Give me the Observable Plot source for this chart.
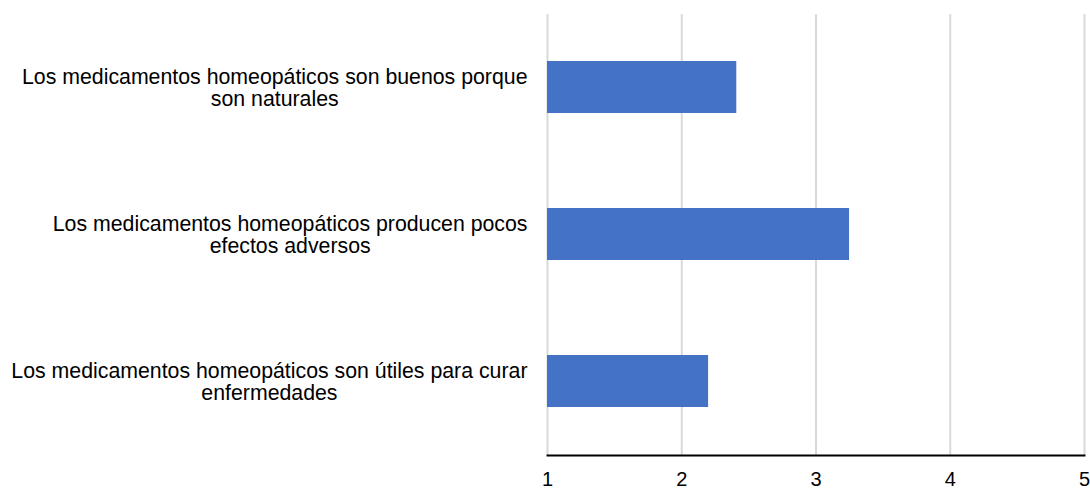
<!DOCTYPE html>
<html><head><meta charset="utf-8">
<script src="https://cdn.jsdelivr.net/npm/d3@7"></script>
<script src="https://cdn.jsdelivr.net/npm/@observablehq/plot@0.6"></script>
<style>html,body{margin:0;padding:0;background:#fff}</style>
</head><body><div id="chart"></div>
<script>
const categories = [
  "Los medicamentos homeopáticos son buenos porque son naturales",
  "Los medicamentos homeopáticos producen pocos efectos adversos",
  "Los medicamentos homeopáticos son útiles para curar enfermedades"
];
const labelLines = [
  ["Los medicamentos homeopáticos son buenos porque", "son naturales"],
  ["Los medicamentos homeopáticos producen pocos", "efectos adversos"],
  ["Los medicamentos homeopáticos son útiles para curar", "enfermedades"]
];
const values = [2.41, 3.25, 2.2];
const xTicks = [1, 2, 3, 4, 5];
const xDomain = [1, 5];

const data = categories.map((c, i) => ({category: c, value: values[i]}));
const labelOf = new Map(categories.map((c, i) => [c, labelLines[i].join("\n")]));

const chart = Plot.plot({
  width: 1090, height: 489,
  marginLeft: 547, marginRight: 6, marginTop: 14, marginBottom: 34,
  style: {fontFamily: "'Liberation Sans', Arial, sans-serif", fontSize: "21.3px", color: "#000", background: "#fff"},
  x: {domain: xDomain, ticks: xTicks, label: null},
  y: {domain: categories, paddingInner: 0.646, paddingOuter: 0.323, label: null},
  marks: [
    Plot.gridX(xTicks, {stroke: "#d9d9d9", strokeOpacity: 1, strokeWidth: 2}),
    Plot.barX(data, {y: "category", x1: xDomain[0], x2: "value", fill: "#4472c4"}),
    Plot.frame({anchor: "bottom", stroke: "#000", strokeWidth: 2}),
    Plot.axisX(xTicks, {tickSize: 0, tickPadding: 16, fontSize: 20, fill: "#000", tickFormat: d3.format("d"), label: null}),
    Plot.axisY({tickSize: 0, tickPadding: 20, fontSize: 21.3, fill: "#000", lineHeight: 1.04, tickFormat: d => labelOf.get(d), textAnchor: "end", label: null})
  ]
});
document.getElementById("chart").appendChild(chart);

// center the wrapped lines of each y label within its right-aligned block
chart.querySelectorAll('g[aria-label="y-axis tick label"] text').forEach(t => {
  const spans = Array.from(t.querySelectorAll("tspan"));
  if (!spans.length) return;
  const widths = spans.map(s => s.getComputedTextLength());
  const W = Math.max(...widths);
  t.setAttribute("text-anchor", "middle");
  spans.forEach(s => {
    const x0 = +(s.getAttribute("x") || 0);
    s.setAttribute("x", x0 - W / 2);
  });
});
</script>
</body></html>
